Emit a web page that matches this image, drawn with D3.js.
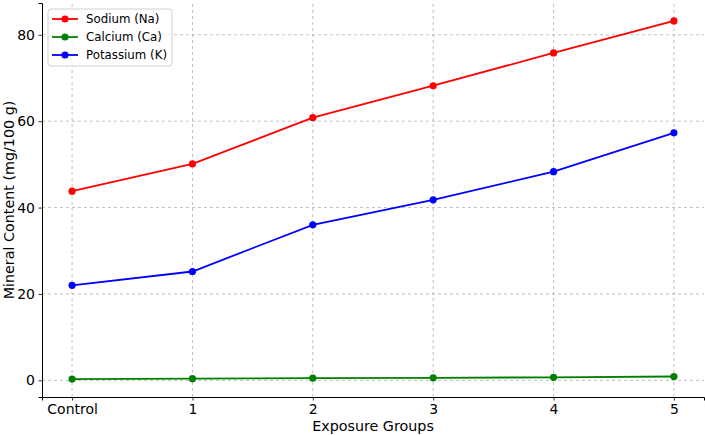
<!DOCTYPE html>
<html>
<head>
<meta charset="utf-8">
<script src="https://cdn.jsdelivr.net/npm/d3@7"></script>
<style>
  body { margin: 0; background: #fff; }
  svg { display: block; font-family: "DejaVu Sans", sans-serif; }
  .grid line { stroke: #b0b0b0; stroke-dasharray: 3,3; stroke-width: 0.8; }
</style>
</head>
<body>
<div id="chart"></div>
<script>
// --- data ---
const groups = ["Control", "1", "2", "3", "4", "5"];
const sodium = [43.8, 50.1, 60.8, 68.2, 75.8, 83.2];
const calcium = [0.3, 0.4, 0.5, 0.6, 0.7, 0.9];
const potassium = [22.0, 25.2, 36.0, 41.8, 48.3, 57.3];
const yTicks = [0, 20, 40, 60, 80];

const series = [
    { name: "Sodium (Na)", values: sodium, color: "#ff0000" },
    { name: "Calcium (Ca)", values: calcium, color: "#008000" },
    { name: "Potassium (K)", values: potassium, color: "#0000ff" }
];

const width = 705, height = 435;
const margin = { left: 42, right: 1, top: 3, bottom: 38 };

const svg = d3.select("#chart").append("svg")
    .attr("width", width)
    .attr("height", height);

const x = d3.scaleLinear()
    .domain([-0.25, 5.25])
    .range([margin.left, width - margin.right]);

const y = d3.scaleLinear()
    .domain([-3.85, 87.35])
    .range([height - margin.bottom, margin.top]);

// grid
const grid = svg.append("g").attr("class", "grid");
grid.selectAll(".gx").data(groups).join("line")
    .attr("x1", (d, i) => x(i)).attr("x2", (d, i) => x(i))
    .attr("y1", y.range()[0]).attr("y2", y.range()[1]);
grid.selectAll(".gy").data(yTicks).join("line")
    .attr("y1", d => y(d)).attr("y2", d => y(d))
    .attr("x1", x.range()[0]).attr("x2", x.range()[1]);

// axes
const xAxis = d3.axisBottom(x)
    .tickValues(d3.range(groups.length))
    .tickFormat(i => groups[i])
    .tickSizeOuter(0).tickSize(3.5).tickPadding(3.5);
const yAxis = d3.axisLeft(y)
    .tickValues(yTicks)
    .tickSizeOuter(0).tickSize(3.5).tickPadding(3.5);

const gx = svg.append("g")
    .attr("transform", `translate(0,${height - margin.bottom})`)
    .call(xAxis);
const gy = svg.append("g")
    .attr("transform", `translate(${margin.left},0)`)
    .call(yAxis);

[gx, gy].forEach(g => {
    g.selectAll("text").attr("font-size", 14).attr("fill", "#000")
        .attr("font-family", "DejaVu Sans, sans-serif");
    g.selectAll("line").attr("stroke", "#000").attr("stroke-width", 0.8);
    g.select(".domain").attr("stroke", "#000").attr("stroke-width", 1);
});

// axis labels
svg.append("text")
    .attr("x", (x.range()[0] + x.range()[1]) / 2)
    .attr("y", 431)
    .attr("text-anchor", "middle")
    .attr("font-size", 14.3)
    .text("Exposure Groups");

svg.append("text")
    .attr("transform", `translate(14,${(y.range()[0] + y.range()[1]) / 2}) rotate(-90)`)
    .attr("text-anchor", "middle")
    .attr("font-size", 14.3)
    .text("Mineral Content (mg/100 g)");

// lines + markers
const line = d3.line().x((d, i) => x(i)).y(d => y(d));

series.forEach(s => {
    svg.append("path")
        .datum(s.values)
        .attr("fill", "none")
        .attr("stroke", s.color)
        .attr("stroke-width", 1.8)
        .attr("d", line);
    svg.append("g").selectAll("circle")
        .data(s.values)
        .join("circle")
        .attr("cx", (d, i) => x(i))
        .attr("cy", d => y(d))
        .attr("r", 3.6)
        .attr("fill", s.color);
});

// legend
const legend = svg.append("g").attr("transform", "translate(48,9)");
legend.append("rect")
    .attr("width", 124).attr("height", 57)
    .attr("rx", 3)
    .attr("fill", "#fff").attr("fill-opacity", 0.8)
    .attr("stroke", "#d0d0d0");

series.forEach((s, i) => {
    const row = legend.append("g").attr("transform", `translate(0,${10 + i * 18})`);
    row.append("line")
        .attr("x1", 4).attr("x2", 30)
        .attr("stroke", s.color).attr("stroke-width", 1.8);
    row.append("circle")
        .attr("cx", 17).attr("r", 3.6).attr("fill", s.color);
    row.append("text")
        .attr("x", 38).attr("y", 4.2)
        .attr("font-size", 11.8)
        .text(s.name);
});
</script>
</body>
</html>
